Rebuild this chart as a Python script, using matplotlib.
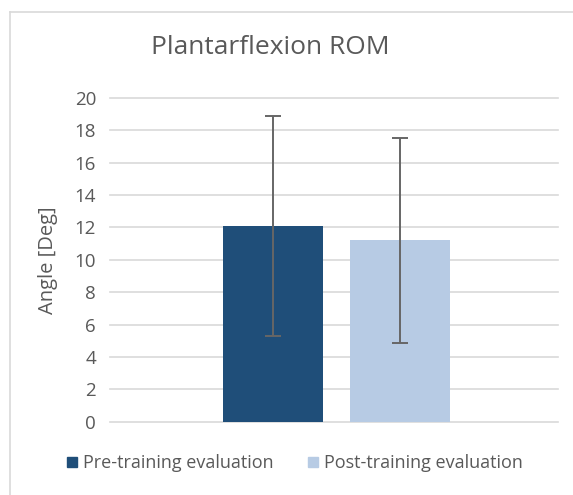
import matplotlib
matplotlib.use("Agg")
import matplotlib.pyplot as plt
from matplotlib.lines import Line2D

# data
groups = ["Pre-training evaluation", "Post-training evaluation"]
means = [12.1, 11.2]
sds = [6.8, 6.35]
colors = ["#1F4E79", "#B7CBE4"]
yticks = [0, 2, 4, 6, 8, 10, 12, 14, 16, 18, 20]

plt.rcParams['font.family'] = ['Open Sans', 'DejaVu Sans']
W, H = 573, 495
fig = plt.figure(figsize=(W / 100, H / 100), dpi=100)

ax = fig.add_axes([110 / W, 1 - 421.7 / H, 448 / W, (421.7 - 98) / H])

xs = list(range(len(groups)))
ax.bar(xs, means, width=0.79, color=colors, zorder=2)
ax.errorbar(xs, means, yerr=sds, fmt='none', ecolor='#666666',
            elinewidth=1.4, capsize=5.5, capthick=1.4, zorder=3)

ax.set_xlim(-1.29, 2.25)
ax.set_ylim(0, 20)
ax.set_yticks(yticks)
ax.set_xticks([])
ax.tick_params(axis='y', length=0, pad=10, labelsize=13.5, labelcolor='#595959')
ax.yaxis.grid(True, color='#D9D9D9', linewidth=1.2, zorder=0)
ax.set_axisbelow(True)
for gl in ax.get_ygridlines():
    gl.set_clip_on(False)
for s in ax.spines.values():
    s.set_visible(False)

fig.text(270 / W, 1 - 47 / H, "Plantarflexion ROM", ha='center', va='center',
         fontsize=19, color='#595959')
fig.text(48 / W, 1 - 260 / H, "Angle [Deg]", ha='center', va='center',
         rotation=90, fontsize=14.5, color='#595959')

handles = [Line2D([], [], marker='s', linestyle='none', markersize=7.5,
                  markerfacecolor=c, markeredgecolor=c) for c in colors]
fig.legend(handles, groups, loc='center', ncol=2,
           bbox_to_anchor=(294 / W, 1 - 463 / H), frameon=False,
           fontsize=13, labelcolor='#595959', handletextpad=0.2,
           columnspacing=1.8, handlelength=0.8)

# chart border
fig.add_artist(Line2D([9.5 / W, 1], [1 - 12 / H, 1 - 12 / H], color='#D9D9D9', lw=1.2))
fig.add_artist(Line2D([9.5 / W, 9.5 / W], [0, 1 - 12 / H], color='#D9D9D9', lw=1.2))

fig.savefig("out.png", dpi=100)
